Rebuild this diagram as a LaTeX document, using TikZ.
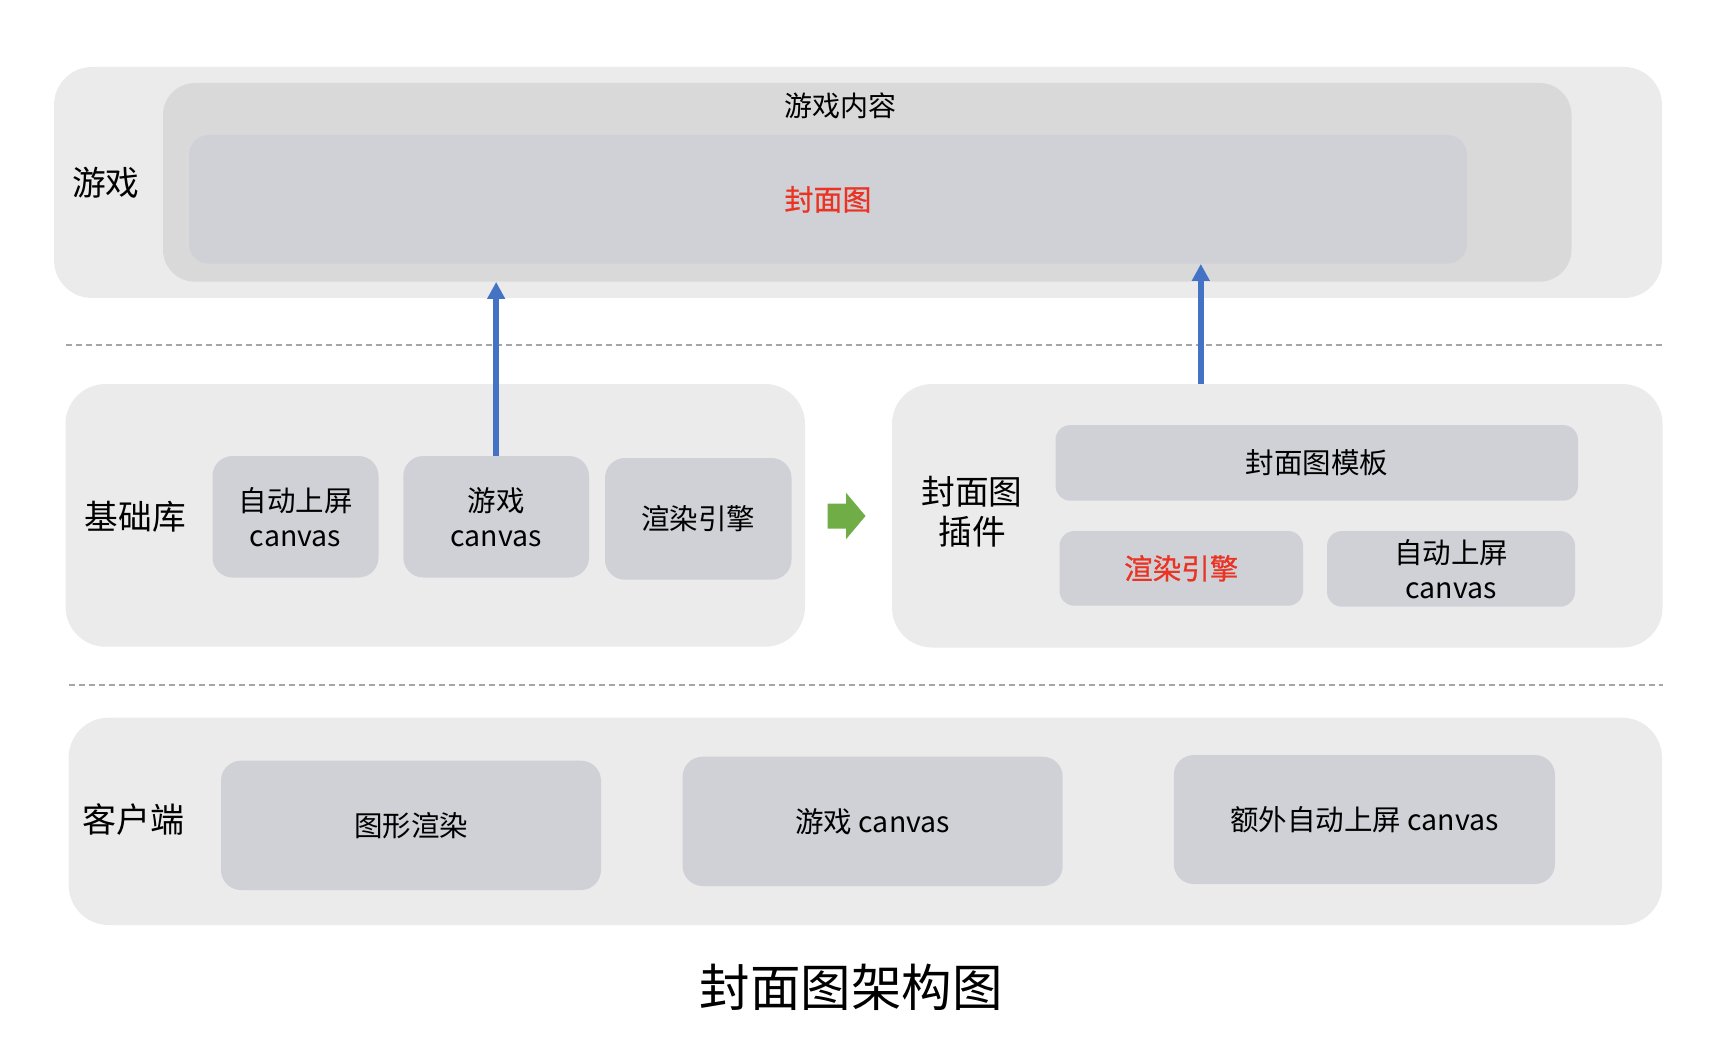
\documentclass[tikz,border=0pt]{standalone}
\usepackage{fontspec}
\setmainfont{Noto Sans CJK SC}
\newfontfamily\redfont[FakeBold=0.9]{Noto Sans CJK SC}
\usetikzlibrary{arrows.meta}
\definecolor{cOuter}{RGB}{235,235,235}
\definecolor{cMid}{RGB}{217,217,217}
\definecolor{cInner}{RGB}{208,209,214}
\definecolor{cRed}{RGB}{234,51,35}
\definecolor{cBlue}{RGB}{68,114,196}
\definecolor{cGreen}{RGB}{112,173,71}
\definecolor{cDash}{RGB}{166,166,166}
\begin{document}
\begin{tikzpicture}[x=1pt,y=-1pt,
  outerbox/.style={fill=cOuter, draw=none, rounded corners=38pt, inner sep=0pt},
  midbox/.style={fill=cMid, draw=none, rounded corners=32pt, inner sep=0pt},
  inbox/.style={fill=cInner, draw=none, rounded corners=20pt, inner sep=0pt, align=center,
    font=\fontsize{28.5}{35}\selectfont},
  smallbox/.style={inbox, rounded corners=15pt},
  lbl/.style={font=\fontsize{33.7}{40}\selectfont, align=center, inner sep=0pt},
  txt/.style={font=\fontsize{28}{35}\selectfont, align=center, inner sep=0pt},
  sep/.style={draw=cDash, line width=1.2pt, dash pattern=on 6pt off 4pt},
  uparrow/.style={draw=cBlue, line width=5.5pt, -{Triangle[length=17pt,width=17pt]}}
]
\useasboundingbox (0,0) rectangle (1710,1048);

% ---- top layer: game
\node[outerbox, minimum width=1608pt, minimum height=231pt] (game) at (858,182.5) {};
\node[midbox, minimum width=1408.5pt, minimum height=198.7pt] (content) at (867.25,182.35) {};
\node[inbox, minimum width=1278pt, minimum height=128.7pt, text=cRed, font=\redfont\fontsize{29}{34}\selectfont] (cover) at (828,199.35) {封面图};
\node[txt] (contentlbl) at (840,106) {游戏内容};
\node[lbl] (gamelbl) at (105.8,183) {游戏};

% ---- separators
\coordinate (d1a) at (65.5,345);
\coordinate (d1b) at (1661.7,345);
\coordinate (d2a) at (68.7,685);
\coordinate (d2b) at (1663,685);
\draw[sep] (d1a) -- (d1b);
\draw[sep] (d2a) -- (d2b);

% ---- middle left: base library
\node[outerbox, rounded corners=40pt, minimum width=739.5pt, minimum height=262.7pt] (base) at (435.25,515.35) {};
\node[lbl] (baselbl) at (135.3,517) {基础库};
\node[inbox, minimum width=166pt, minimum height=121.5pt] (auto1) at (295.5,516.75) {自动上屏\\canvas};
\node[inbox, minimum width=185.7pt, minimum height=121.5pt] (gc1) at (496.15,516.75) {游戏\\canvas};
\node[inbox, minimum width=186.5pt, minimum height=121.7pt] (render1) at (698.25,518.85) {渲染引擎};

% ---- green arrow
\fill[cGreen] (827.5,503.5) -- (846,503.5) -- (846,492.7) -- (865.5,516) -- (846,539.3) -- (846,528.5) -- (827.5,528.5) -- cycle;

% ---- middle right: cover plugin
\node[outerbox, rounded corners=40pt, minimum width=770.5pt, minimum height=263.5pt] (plugin) at (1277.25,515.75) {};
\node[lbl] (pluginlbl) at (972,511.7) {封面图\\插件};
\node[smallbox, minimum width=522.5pt, minimum height=75.7pt] (tmpl) at (1316.75,462.85) {封面图模板};
\node[smallbox, minimum width=243.5pt, minimum height=74.7pt, text=cRed, font=\redfont\fontsize{28.5}{35}\selectfont] (render2) at (1181.25,568.35) {渲染引擎};
\node[smallbox, minimum width=248pt, minimum height=75.7pt] (auto2) at (1451,568.85) {自动上屏\\canvas};

% ---- bottom: client
\node[outerbox, rounded corners=40pt, minimum width=1593.4pt, minimum height=207.3pt] (client) at (865.3,821.35) {};
\node[lbl, font=\fontsize{34}{40}\selectfont] (clientlbl) at (133,820) {客户端};
\node[inbox, minimum width=380pt, minimum height=129.3pt] (gfx) at (411,825.35) {图形渲染};
\node[inbox, minimum width=380.1pt, minimum height=129.3pt] (gc2) at (872.65,821.35) {游戏 canvas};
\node[inbox, minimum width=381.2pt, minimum height=129pt] (extra) at (1364.4,819.5) {额外自动上屏 canvas};

% ---- title
\node[font=\fontsize{50.5}{56}\selectfont, inner sep=0pt] (title) at (851,987) {封面图架构图};

% ---- blue arrows
\draw[uparrow] (gc1.north) -- (gc1.north |- content.south);
\coordinate (p2) at (1200.8,384);
\draw[uparrow] (p2) -- (p2 |- cover.south);
\end{tikzpicture}
\end{document}
